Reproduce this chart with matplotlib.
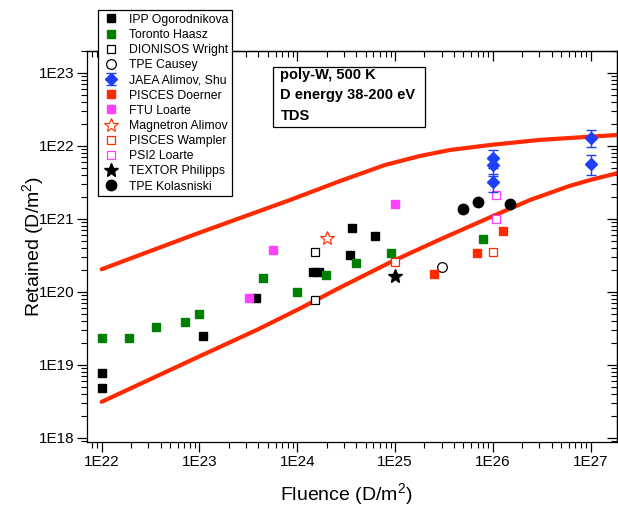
import matplotlib
matplotlib.use("Agg")
import matplotlib.pyplot as plt
import numpy as np
from matplotlib.patches import Rectangle
from matplotlib.ticker import FixedLocator, LogLocator, FuncFormatter, NullFormatter

plt.rcParams["font.family"] = ["Liberation Sans", "DejaVu Sans"]
plt.rcParams["mathtext.default"] = "regular"

# =====================================
# DATA
# =====================================

upper_fluence = [1.0e22, 9.2e22, 8.4e23, 2.74e24, 7.9e24, 1.8e25,
                 3.64e25, 9.3e25, 3.03e26, 1.0e27, 1.86e27]
upper_retained = [2.03e20, 6.17e20, 1.80e21, 3.28e21, 5.44e21, 7.23e21,
                  8.73e21, 1.02e22, 1.20e22, 1.33e22, 1.40e22]

lower_fluence = [1.0e22, 1.01e23, 3.85e23, 1.07e24, 2.74e24, 9.5e24,
                 2.88e25, 9.3e25, 2.39e26, 6.1e26, 1.0e27, 1.86e27]
lower_retained = [3.1e18, 1.31e19, 2.99e19, 5.9e19, 1.14e20, 2.63e20,
                  5.19e20, 1.04e21, 1.80e21, 2.81e21, 3.40e21, 4.19e21]

ipp_fluence = [1.0e22, 1.0e22, 1.08e23, 3.76e23, 1.46e24, 1.68e24,
               3.46e24, 3.6e24, 6.3e24]
ipp_retained = [7.8e18, 4.75e18, 2.5e19, 8.3e19, 1.84e20, 1.88e20,
                3.18e20, 7.4e20, 5.8e20]

toronto_fluence = [1.0e22, 1.9e22, 3.57e22, 7.1e22, 1.0e23, 4.5e23,
                   9.9e23, 1.95e24, 4.0e24, 9.0e24, 8.0e25]
toronto_retained = [2.3e19, 2.3e19, 3.3e19, 3.9e19, 4.95e19, 1.56e20,
                    1.0e20, 1.68e20, 2.5e20, 3.42e20, 5.3e20]

dionisos_fluence = [1.52e24, 1.52e24]
dionisos_retained = [3.53e20, 7.7e19]

causey_fluence = [3.0e25]
causey_retained = [2.18e20]

jaea_fluence = [1.0e26, 1.0e26, 1.0e26, 1.0e27, 1.0e27]
jaea_retained = [6.8e21, 5.4e21, 3.2e21, 1.29e22, 5.7e21]
jaea_error = [1.9e21, 1.5e21, 0.9e21, 0.33e22, 1.7e21]

doerner_fluence = [2.52e25, 6.9e25, 1.28e26]
doerner_retained = [1.75e20, 3.39e20, 6.8e20]

ftu_fluence = [3.23e23, 5.65e23, 1.0e25]
ftu_retained = [8.2e19, 3.72e20, 1.59e21]

magnetron_fluence = [2.0e24]
magnetron_retained = [5.4e20]

wampler_fluence = [1.0e25, 1.0e26]
wampler_retained = [2.53e20, 3.5e20]

psi2_fluence = [1.08e26, 1.08e26]
psi2_retained = [2.09e21, 9.9e20]

textor_fluence = [1.0e25]
textor_retained = [1.66e20]

kolasniski_fluence = [4.98e25, 7.0e25, 1.5e26]
kolasniski_retained = [1.37e21, 1.69e21, 1.59e21]

x_ticks = [1e22, 1e23, 1e24, 1e25, 1e26, 1e27]
y_ticks = [1e18, 1e19, 1e20, 1e21, 1e22, 1e23]

# =====================================
# STYLES
# =====================================

RED = "#FF2A00"
GREEN = "#008000"
MAGENTA = "#FF40FF"
BLUE = "#1F3FFF"

W, H = 618, 507

fig = plt.figure(
    figsize=(6.18, 5.07),
    dpi=100
)

ax = fig.add_axes(
    [0.1403, 0.1276, 0.858, 0.7724]
)

ax.set_xscale("log")
ax.set_yscale("log")

# =====================================
# MODEL CURVES
# =====================================

ax.plot(
    upper_fluence,
    upper_retained,
    color=RED,
    linewidth=3.0,
    solid_capstyle="round",
    zorder=2
)

ax.plot(
    lower_fluence,
    lower_retained,
    color=RED,
    linewidth=3.0,
    solid_capstyle="round",
    zorder=2
)

# =====================================
# DATA SERIES
# =====================================

handles = []

series = [
    (ipp_fluence, ipp_retained, "IPP Ogorodnikova",
     dict(marker="s", ms=6.2, mfc="black", mec="black")),
    (toronto_fluence, toronto_retained, "Toronto Haasz",
     dict(marker="s", ms=6.2, mfc=GREEN, mec=GREEN)),
    (dionisos_fluence, dionisos_retained, "DIONISOS Wright",
     dict(marker="s", ms=5.6, mfc="white", mec="black", mew=0.9)),
    (causey_fluence, causey_retained, "TPE Causey",
     dict(marker="o", ms=7.0, mfc="white", mec="black", mew=0.9)),
]

for x, y, label, style in series:

    h, = ax.plot(
        x,
        y,
        linestyle="none",
        label=label,
        zorder=3,
        **style
    )

    handles.append(h)

jaea = ax.errorbar(
    jaea_fluence,
    jaea_retained,
    yerr=jaea_error,
    fmt="D",
    color=BLUE,
    ms=6.5,
    elinewidth=1.0,
    capsize=3.5,
    capthick=1.0,
    label="JAEA Alimov, Shu",
    zorder=4
)

handles.append(jaea)

series = [
    (doerner_fluence, doerner_retained, "PISCES Doerner",
     dict(marker="s", ms=6.2, mfc=RED, mec=RED)),
    (ftu_fluence, ftu_retained, "FTU Loarte",
     dict(marker="s", ms=6.2, mfc=MAGENTA, mec=MAGENTA)),
    (magnetron_fluence, magnetron_retained, "Magnetron Alimov",
     dict(marker="*", ms=10.5, mfc="white", mec=RED, mew=0.8)),
    (wampler_fluence, wampler_retained, "PISCES Wampler",
     dict(marker="s", ms=5.6, mfc="white", mec=RED, mew=0.9)),
    (psi2_fluence, psi2_retained, "PSI2 Loarte",
     dict(marker="s", ms=5.6, mfc="white", mec=MAGENTA, mew=0.9)),
    (textor_fluence, textor_retained, "TEXTOR Philipps",
     dict(marker="*", ms=10.5, mfc="black", mec="black")),
    (kolasniski_fluence, kolasniski_retained, "TPE Kolasniski",
     dict(marker="o", ms=7.5, mfc="black", mec="black")),
]

for x, y, label, style in series:

    h, = ax.plot(
        x,
        y,
        linestyle="none",
        label=label,
        zorder=3,
        **style
    )

    handles.append(h)

# =====================================
# AXES
# =====================================

ax.set_xlim(7.03e21, 1.86e27)
ax.set_ylim(8.65e17, 2.0e23)

log_label = FuncFormatter(
    lambda v, pos: f"1E{int(round(np.log10(v)))}"
)

ax.xaxis.set_major_locator(FixedLocator(x_ticks))
ax.yaxis.set_major_locator(FixedLocator(y_ticks))
ax.xaxis.set_major_formatter(log_label)
ax.yaxis.set_major_formatter(log_label)

for axis in (ax.xaxis, ax.yaxis):
    axis.set_minor_locator(
        LogLocator(base=10, subs=np.arange(2, 10), numticks=20)
    )
    axis.set_minor_formatter(NullFormatter())

ax.tick_params(
    which="major",
    direction="out",
    length=7,
    width=0.9,
    labelsize=11,
    pad=2
)

ax.tick_params(
    which="minor",
    direction="out",
    length=4,
    width=0.8
)

for spine in ax.spines.values():
    spine.set_linewidth(0.9)

top = ax.secondary_xaxis("top")
right = ax.secondary_yaxis("right")

top.xaxis.set_major_locator(FixedLocator(x_ticks))
right.yaxis.set_major_locator(FixedLocator(y_ticks))

top.xaxis.set_minor_locator(
    LogLocator(base=10, subs=np.arange(2, 10), numticks=20)
)
right.yaxis.set_minor_locator(
    LogLocator(base=10, subs=np.arange(2, 10), numticks=20)
)

for sec in (top, right):
    sec.tick_params(which="major", direction="in", length=7, width=0.9)
    sec.tick_params(which="minor", direction="in", length=4, width=0.8)
    sec.tick_params(labeltop=False, labelright=False)
    sec.xaxis.set_major_formatter(NullFormatter())
    sec.xaxis.set_minor_formatter(NullFormatter())
    sec.yaxis.set_major_formatter(NullFormatter())
    sec.yaxis.set_minor_formatter(NullFormatter())
    for spine in sec.spines.values():
        spine.set_linewidth(0.9)

ax.set_xlabel(
    "Fluence (D/m$^2$)",
    fontsize=14
)

ax.set_ylabel(
    "Retained (D/m$^2$)",
    fontsize=14
)

ax.xaxis.set_label_coords(0.49, -0.1)
ax.yaxis.set_label_coords(-0.076, 0.5)

# =====================================
# LEGEND AND NOTE
# =====================================

leg = ax.legend(
    handles=handles,
    loc="upper left",
    bbox_to_anchor=(98.3 / W, 1 - 10 / H),
    bbox_transform=fig.transFigure,
    fontsize=8.8,
    frameon=True,
    fancybox=False,
    edgecolor="black",
    framealpha=1.0,
    borderpad=0.3,
    labelspacing=0.26,
    handlelength=1.5,
    handletextpad=0.7,
    borderaxespad=0.0,
    numpoints=1
)

leg.get_frame().set_linewidth(0.9)
leg.set_zorder(10)

note_box = Rectangle(
    (272.7 / W, 1 - 126.7 / H),
    (425 - 272.7) / W,
    (126.7 - 66.7) / H,
    transform=fig.transFigure,
    facecolor="white",
    edgecolor="black",
    linewidth=0.9,
    zorder=5
)

fig.patches.append(note_box)

fig.text(
    280.5 / W,
    1 - 67.5 / H,
    "poly-W, 500 K\nD energy 38-200 eV\nTDS",
    fontsize=10.5,
    fontweight="bold",
    ha="left",
    va="top",
    linespacing=1.6,
    zorder=6
)

fig.savefig(
    "out.png",
    dpi=100
)

plt.close(fig)
